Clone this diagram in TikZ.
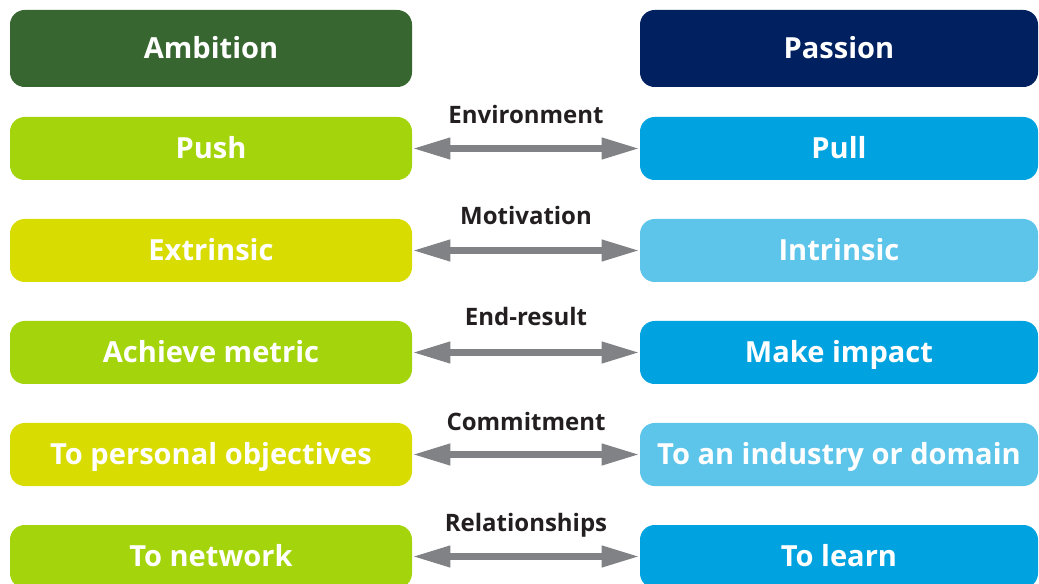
\documentclass[tikz,border=0pt]{standalone}
\usepackage{fontspec}
\setmainfont{Open Sans}
\usetikzlibrary{arrows.meta}
\definecolor{ambg}{HTML}{376631}
\definecolor{pasb}{HTML}{002060}
\definecolor{lgreen}{HTML}{A4D40C}
\definecolor{lyellow}{HTML}{D8DC00}
\definecolor{dblue}{HTML}{00A3E0}
\definecolor{lblue}{HTML}{5EC5EA}
\definecolor{arrg}{HTML}{808285}
\definecolor{labc}{HTML}{231F20}
\begin{document}
\begin{tikzpicture}[x=0.75pt,y=-0.75pt,
  box/.style={rounded corners=11pt, inner sep=0pt, text=white, font=\bfseries\fontsize{21.8}{26}\selectfont, minimum height=47.25pt, text height=15.5pt, text depth=0pt},
  lbox/.style={box, minimum width=301.5pt},
  rbox/.style={box, minimum width=298.5pt},
  hdr/.style={minimum height=57.75pt},
  lab/.style={text=labc, font=\bfseries\fontsize{18}{21}\selectfont, inner sep=0pt, text height=12.8pt, text depth=0pt},
  dar/.style={draw=arrg, line width=5.25pt, {Triangle[length=28.5pt,width=15pt]}-{Triangle[length=28.5pt,width=15pt]}}
]
\useasboundingbox (0,0) rectangle (1039,584);
\node[lbox,hdr,fill=ambg] (amb) at (211,48.5) {Ambition};
\node[rbox,hdr,fill=pasb] (pas) at (839,48.5) {Passion};

\node[lbox,fill=lgreen] (l1) at (211,148.5) {Push};
\node[rbox,fill=dblue] (r1) at (839,148.5) {Pull};
\node[lbox,fill=lyellow] (l2) at (211,250.5) {Extrinsic};
\node[rbox,fill=lblue] (r2) at (839,250.5) {Intrinsic};
\node[lbox,fill=lgreen] (l3) at (211,352.5) {Achieve metric};
\node[rbox,fill=dblue] (r3) at (839,352.5) {Make impact};
\node[lbox,fill=lyellow] (l4) at (211,454.5) {To personal objectives};
\node[rbox,fill=lblue] (r4) at (839,454.5) {To an industry or domain};
\node[lbox,fill=lgreen] (l5) at (211,556.5) {To network};
\node[rbox,fill=dblue] (r5) at (839,556.5) {To learn};

\node[lab] (t1) at (526,115) {Environment};
\node[lab] (t2) at (526,216) {Motivation};
\node[lab] (t3) at (526,317) {End-result};
\node[lab] (t4) at (526,422) {Commitment};
\node[lab] (t5) at (526,523) {Relationships};

\foreach \i in {1,...,5} {
  \draw[dar] (l\i.east) -- (r\i.west);
}
\end{tikzpicture}
\end{document}
